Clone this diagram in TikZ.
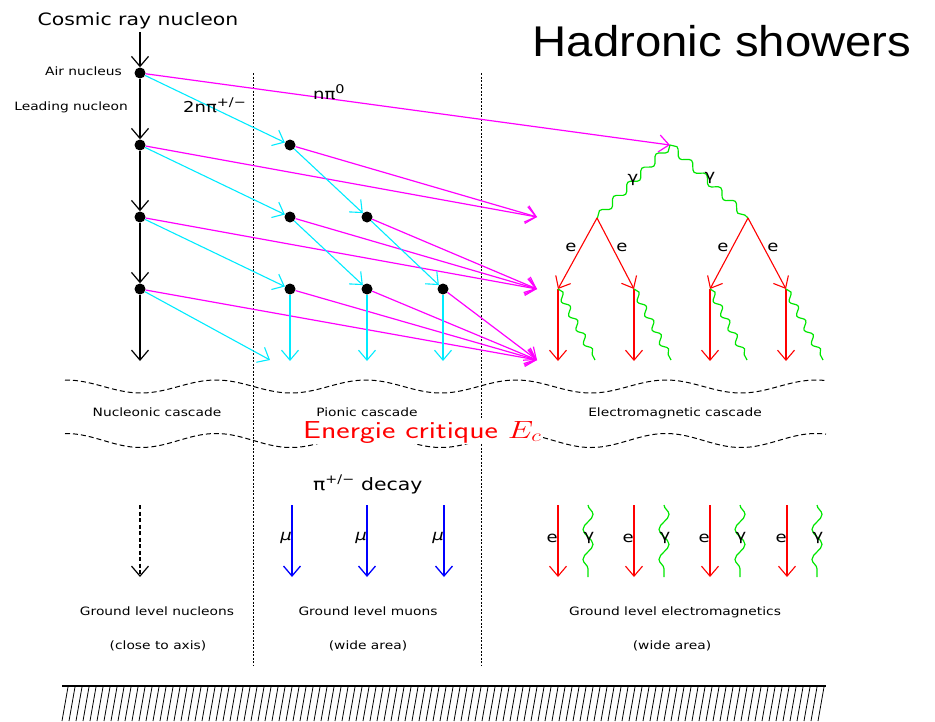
\documentclass[tikz,border=0pt]{standalone}
\usepackage{fontspec}
\usepackage{amsmath}
\usetikzlibrary{arrows.meta,decorations.pathmorphing}
\newfontfamily\pixfont{DejaVu Sans}[FakeStretch=1.2]
\newfontfamily\titlefont{Liberation Sans}[FakeStretch=1.1]
\definecolor{pioncol}{RGB}{0,235,255}
\definecolor{neutcol}{RGB}{255,0,255}
\definecolor{photcol}{RGB}{0,230,0}
\definecolor{eleccol}{RGB}{255,0,0}
\definecolor{muoncol}{RGB}{0,0,255}

\begin{document}
\begin{tikzpicture}[x=1pt,y=-1pt,
    vtx/.style={circle,fill=black,inner sep=0pt,minimum size=11pt},
    barb/.style={-{Straight Barb[length=10pt,width=17pt]}},
    nucl/.style={barb,line width=1.2pt},
    pion/.style={barb,pioncol,line width=1.1pt},
    neut/.style={barb,neutcol,line width=1.2pt},
    elec/.style={barb,eleccol,line width=1.1pt},
    muon/.style={barb,muoncol,line width=1.3pt},
    phot/.style={photcol,line width=1.2pt,decorate,decoration={snake,segment length=16pt,amplitude=3pt}},
    lbl/.style={font=\pixfont\fontsize{11.5}{13}\selectfont,inner sep=0pt,anchor=base},
    sym/.style={font=\pixfont\fontsize{15}{17}\selectfont,inner sep=0pt},
    wavecut/.style={dash pattern=on 5pt off 3pt,line width=1pt},
    colsep/.style={dash pattern=on 2pt off 1.5pt,line width=0.8pt}]
  \useasboundingbox (0,0) rectangle (935,721);
  \node[font=\titlefont\fontsize{43}{48}\selectfont,anchor=base,inner sep=0pt] (title) at (722,56) {Hadronic showers};
  \node[lbl,font=\pixfont\fontsize{17}{19}\selectfont] (cosmic) at (138,25) {Cosmic ray nucleon};
  \draw[colsep] (253,73) -- (253,665);
  \draw[colsep] (481,73) -- (481,665);
  % nucleonic cascade
  \coordinate (ntop) at (140,32);
  \foreach \i/\y in {0/73,1/145,2/217,3/289} \node[vtx] (n\i) at (140,\y) {};
  \coordinate (nend) at (140,361);
  \foreach \a/\b in {ntop/n0,n0/n1,n1/n2,n2/n3,n3/nend} \draw[nucl] (\a) -- (\b);
  \node[lbl,anchor=base east] (air) at (122,75) {Air nucleus};
  \node[lbl,anchor=base east] (lead) at (128,110) {Leading nucleon};
  % pionic cascade
  \node[vtx] (p11) at (290,145) {};
  \node[vtx] (p21) at (290,217) {};
  \node[vtx] (p22) at (367,217) {};
  \node[vtx] (p31) at (290,289) {};
  \node[vtx] (p32) at (367,289) {};
  \node[vtx] (p33) at (443,289) {};
  \coordinate (c0) at (270,360);
  \coordinate (c1) at (290,361);
  \coordinate (c2) at (367,361);
  \coordinate (c3) at (443,361);
  \coordinate (g0) at (670,145);
  \coordinate (m1) at (537,217);
  \coordinate (m2) at (537,289);
  \coordinate (m3) at (537,360);
  \foreach \a/\b in {n0/g0,n1/m1,p11/m1,n2/m2,p21/m2,p22/m2,n3/m3,p31/m3,p32/m3,p33/m3} \draw[neut] (\a) -- (\b);
  \foreach \a/\b in {n0/p11,n1/p21,n2/p31,n3/c0,p11/p22,p21/p32,p22/p33,p31/c1,p32/c2,p33/c3} \draw[pion] (\a) -- (\b);
  \node[sym,anchor=base west] (npi) at (313,99) {nπ\textsuperscript{\fontsize{12}{12}\selectfont 0}};
  \node[sym,anchor=base west] (cpi) at (183,112) {2nπ\textsuperscript{\fontsize{12}{12}\selectfont +/−}};
  % electromagnetic cascade
  \coordinate (gl) at (597,218);
  \coordinate (gr) at (748,218);
  \draw[phot,decoration={segment length=20pt,amplitude=3.5pt}] (g0) -- (gl);
  \draw[phot,decoration={segment length=20pt,amplitude=3.5pt}] (g0) -- (gr);
  \node[sym] (gaml) at (633,180) {γ};
  \node[sym] (gamr) at (710,178) {γ};
  \foreach \s/\x [count=\i] in {gl/558,gl/634,gr/710,gr/786} {
    \coordinate (e\i) at (\x,289);
    \coordinate (f\i) at (\x,361);
    \coordinate (h\i) at (\x+37,360);
    \draw[elec] (\s) -- (e\i);
    \draw[elec] (e\i) -- (f\i);
    \draw[phot] (e\i) -- (h\i);
  }
  \node[sym] (el1) at (571,247) {e};
  \node[sym] (el2) at (622,247) {e};
  \node[sym] (el3) at (723,247) {e};
  \node[sym] (el4) at (773,247) {e};
  % critical energy band
  \draw[wavecut] plot[domain=65:826,samples=150,smooth,variable=\t] (\t,{386.5-6.5*cos(2.4*(\t-66))});
  \draw[wavecut] plot[domain=65:826,samples=150,smooth,variable=\t] (\t,{440.5-7*cos(2.4*(\t-66))});
  \node[lbl] (ncas) at (157,416) {Nucleonic cascade};
  \node[lbl] (pcas) at (367,416) {Pionic cascade};
  \node[lbl] (ecas) at (675,416) {Electromagnetic cascade};
  \node[eleccol,fill=white,font=\sffamily\fontsize{24.5}{28}\selectfont,anchor=base west,inner sep=1pt] (ecrit) at (302,438) {\scalebox{1.3}[1]{Energie critique $E_c$}};
  % ground level
  \node[lbl,anchor=base west,font=\pixfont\fontsize{17}{19}\selectfont] (pidec) at (313,490) {π\textsuperscript{+/−} decay};
  \coordinate (nt) at (140,505);
  \coordinate (nb) at (140,577);
  \draw[nucl,dash pattern=on 4pt off 2.5pt] (nt) -- (nb);
  \foreach \x [count=\i] in {292,367,444} {
    \coordinate (mt\i) at (\x,505);
    \coordinate (mb\i) at (\x,577);
    \draw[muon] (mt\i) -- (mb\i);
    \node[sym,anchor=east,font=\pixfont\itshape\fontsize{15}{17}\selectfont] (mu\i) at (\x,538) {μ};
  }
  \foreach \x [count=\i] in {558,634,710,787} {
    \coordinate (et\i) at (\x,505);
    \coordinate (eb\i) at (\x,577);
    \coordinate (gt\i) at (\x+30,505);
    \coordinate (gb\i) at (\x+30,577);
    \draw[elec] (et\i) -- (eb\i);
    \draw[phot,decoration={segment length=30pt,amplitude=5pt}] (gt\i) -- (gb\i);
    \node[sym,anchor=east] (ge\i) at (\x,538) {e};
    \node[sym] (gg\i) at (\x+31,538) {γ};
  }
  \node[lbl] (gln) at (157,615) {Ground level nucleons};
  \node[lbl] (glm) at (368,615) {Ground level muons};
  \node[lbl] (gle) at (675,615) {Ground level electromagnetics};
  \node[lbl] (axis) at (158,649) {(close to axis)};
  \node[lbl] (wide1) at (368,649) {(wide area)};
  \node[lbl] (wide2) at (672,649) {(wide area)};
  % ground
  \draw[line width=1.2pt] (62,686) -- (826,686);
  \foreach \hx in {62,69,...,820} \draw[line width=0.8pt] (\hx,721) -- (\hx+6,687);
\end{tikzpicture}
\end{document}
